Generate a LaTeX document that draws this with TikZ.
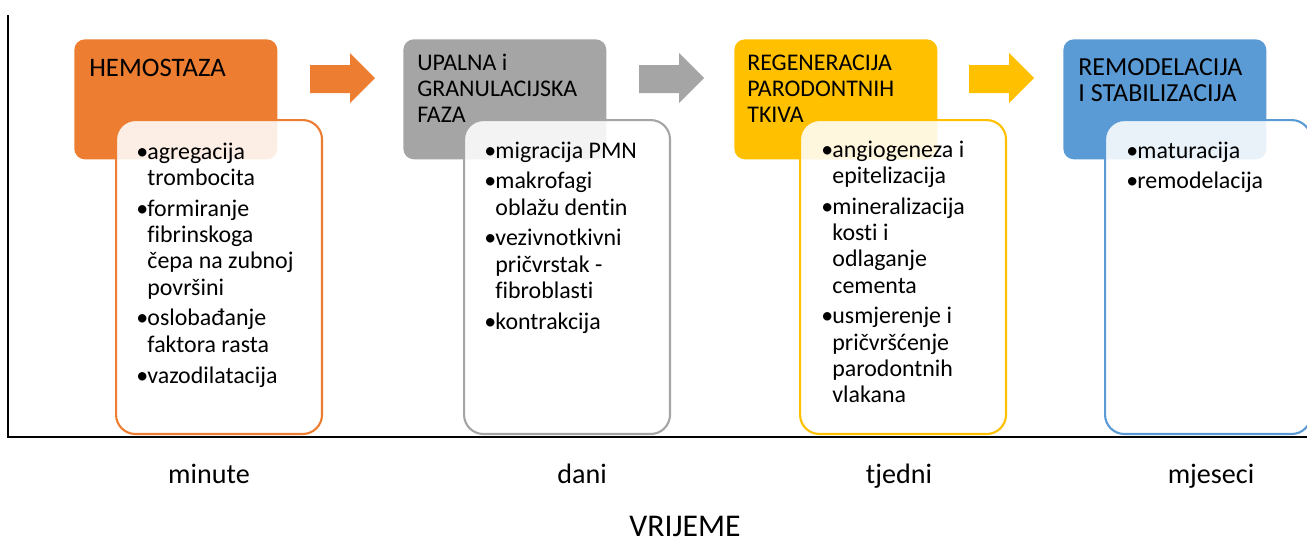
\documentclass[tikz,border=0pt]{standalone}
\usepackage{fontspec}
\setmainfont{Carlito}[Ligatures={NoCommon}]
\usetikzlibrary{positioning}
\definecolor{narancasta}{HTML}{ED7D31}
\definecolor{siva}{HTML}{A5A5A5}
\definecolor{zuta}{HTML}{FFC000}
\definecolor{plava}{HTML}{5B9BD5}

\newcommand{\stavka}[1]{\par\hangindent=6.3pt\hangafter=1\noindent\makebox[6.3pt][l]{•}#1}
\newcommand{\popis}[1]{\parbox[t]{4cm}{\fontsize{13.6}{15}\selectfont\parskip=2.5pt #1}}
\newcommand{\zaglavlje}[2]{\parbox[t]{4cm}{\fontsize{#1}{15}\selectfont\raggedright #2}}

\begin{document}
\begin{tikzpicture}[x=0.02cm,y=-0.02cm,
    faza/.style={draw=none,rounded corners=6pt,minimum width=4.06cm,minimum height=2.4cm,
      anchor=north west,inner sep=0pt},
    opis/.style={line width=1.2pt,fill=white,fill opacity=0.87,rounded corners=11pt,
      minimum width=4.12cm,minimum height=6.28cm,anchor=north west,inner sep=0pt},
    naslov/.style={anchor=base west,inner sep=0pt},
    tekst/.style={anchor=base west,inner sep=0pt},
    vrijeme/.style={anchor=base,inner sep=0pt,font=\fontsize{16}{16}\selectfont}]

\useasboundingbox (0,0) rectangle (1307,542);

% os
\coordinate (vrh) at (8,15);
\coordinate (ishodiste) at (8,437);
\coordinate (kraj) at (1307,437);
\draw [line width=0.9pt] (vrh) -- (ishodiste) -- (kraj);

% faze
\node [faza,fill=narancasta] (hemo) at (74,39) {};
\node [faza,fill=siva] (upal) at (403,39) {};
\node [faza,fill=zuta] (rege) at (734,39) {};
\node [faza,fill=plava] (remo) at (1063,39) {};

% strelice
\foreach \x/\boja in {310/narancasta,639/siva,969/zuta}
  \fill [\boja] (\x,65) -- (\x+40,65) -- (\x+40,53) -- (\x+65,78)
    -- (\x+40,103) -- (\x+40,93) -- (\x,93) -- cycle;

% okviri
\node [opis,draw=narancasta] (hemoOkvir) at (115,119) {};
\node [opis,draw=siva] (upalOkvir) at (463,119) {};
\node [opis,draw=zuta] (regeOkvir) at (799,119) {};
\node [opis,draw=plava] (remoOkvir) at (1104,119) {};

% naslovi
\node [naslov] (hemoNaslov) at (89,76) {\zaglavlje{15.2}{HEMOSTAZA}};
\node [naslov] (upalNaslov) at (417,70) {\zaglavlje{13.6}{UPALNA i\\GRANULACIJSKA\\FAZA}};
\node [naslov] (regeNaslov) at (747,70) {\zaglavlje{13.6}{REGENERACIJA\\PARODONTNIH\\TKIVA}};
\node [naslov] (remoNaslov) at (1078,75) {\zaglavlje{14.8}{REMODELACIJA\\I STABILIZACIJA}};

% tekst
\node [tekst] (hemoTekst) at (136,159) {\popis{%
  \stavka{agregacija\\trombocita}
  \stavka{formiranje\\fibrinskoga\\čepa na zubnoj\\površini}
  \stavka{oslobađanje\\faktora rasta}
  \stavka{vazodilatacija}}};
\node [tekst] (upalTekst) at (484,158) {\popis{%
  \stavka{migracija PMN}
  \stavka{makrofagi\\oblažu dentin}
  \stavka{vezivnotkivni\\pričvrstak -\\fibroblasti}
  \stavka{kontrakcija}}};
\node [tekst] (regeTekst) at (821,157) {\popis{%
  \stavka{angiogeneza i\\epitelizacija}
  \stavka{mineralizacija\\kosti i\\odlaganje\\cementa}
  \stavka{usmjerenje i\\pričvršćenje\\parodontnih\\vlakana}}};
\node [tekst] (remoTekst) at (1126,158) {\popis{%
  \stavka{maturacija}
  \stavka{remodelacija}}};

% vremenska skala
\node [vrijeme] (minute) at (209,483) {minute};
\node [vrijeme] (dani) at (582,483) {dani};
\node [vrijeme] (tjedni) at (899,483) {tjedni};
\node [vrijeme] (mjeseci) at (1211,483) {mjeseci};
\node [vrijeme,font=\fontsize{18}{18}\selectfont] (os) at (685,536) {VRIJEME};

\end{tikzpicture}
\end{document}
